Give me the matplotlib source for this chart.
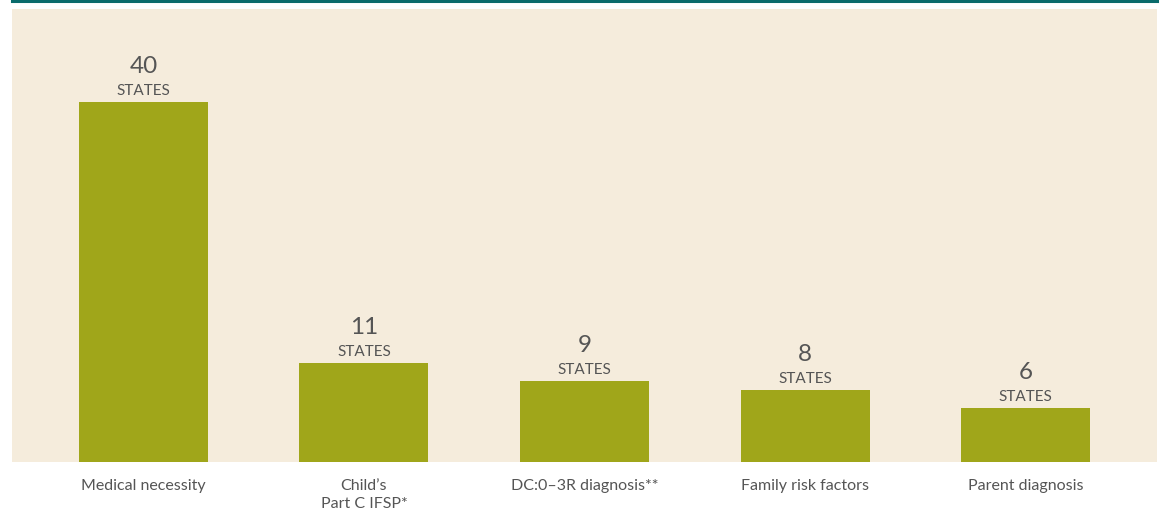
import matplotlib
matplotlib.use("Agg")
import matplotlib.pyplot as plt
from matplotlib.lines import Line2D

categories = ["Medical necessity", "Child\u2019s\nPart C IFSP*", "DC:0\u20133R diagnosis**",
              "Family risk factors", "Parent diagnosis"]
values = [40, 11, 9, 8, 6]
unit_label = "STATES"

plt.rcParams['font.family'] = ['Lato', 'DejaVu Sans']

W, H = 1160, 513
fig = plt.figure(figsize=(W / 100, H / 100), dpi=100)
fig.patch.set_facecolor("white")

ax = fig.add_axes([12 / W, (H - 462) / H, 1145 / W, 453 / H])
ax.set_facecolor("#f5ecdc")
x = list(range(len(values)))
ax.bar(x, values, width=0.585, color="#a0a61a", zorder=2)
ax.set_xlim(-0.596, len(values) - 1 + 0.596)
ax.set_ylim(0, 453 / 9)
for s in ax.spines.values():
    s.set_visible(False)
ax.set_yticks([])
ax.set_xticks(x)
ax.set_xticklabels(categories, fontsize=11.5, color="#555555", linespacing=1.4, va="top")
ax.tick_params(axis="x", length=0, pad=12)

for xi, v in zip(x, values):
    ax.annotate(unit_label, (xi, v), xytext=(0, 8), textcoords="offset points",
                ha="center", va="center", fontsize=11, color="#555555")
    ax.annotate(str(v), (xi, v), xytext=(0, 25.5), textcoords="offset points",
                ha="center", va="center", fontsize=17.5, color="#555555")

fig.add_artist(Line2D([12 / W, 1157 / W], [1 - 1 / H, 1 - 1 / H], transform=fig.transFigure,
                      color="#0a6b6b", linewidth=2.2))

fig.savefig("out.png", dpi=100, facecolor="white")
